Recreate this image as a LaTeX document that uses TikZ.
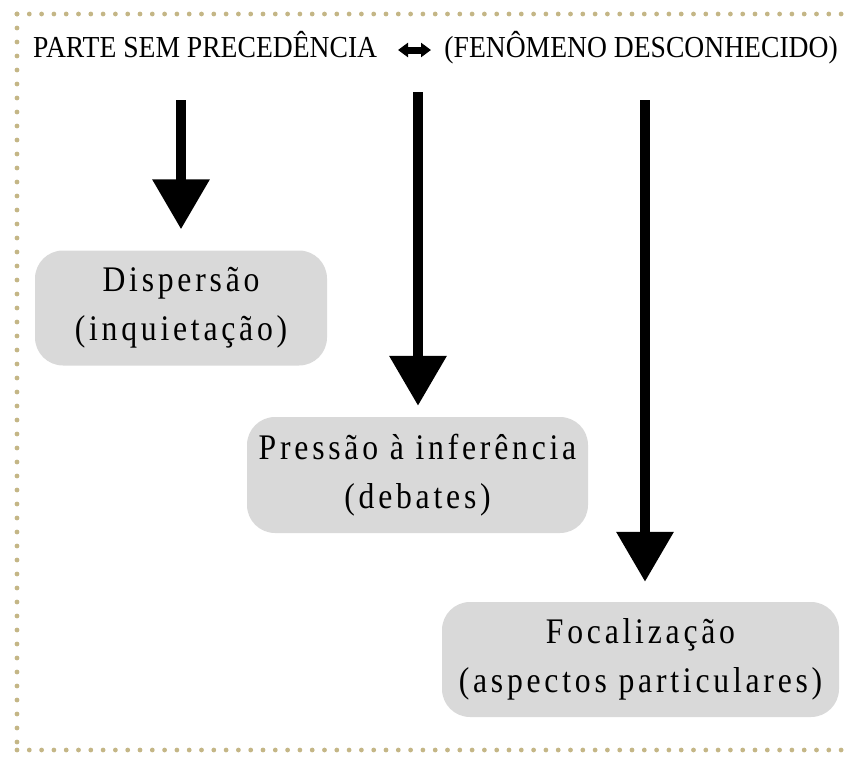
\documentclass[tikz,border=0pt]{standalone}
\usepackage{fontspec}
\setmainfont{Liberation Serif}
\newfontfamily\headfont[FakeStretch=0.905]{Liberation Serif}
\newfontfamily\boxfont[FakeStretch=0.88,LetterSpace=10.5]{Liberation Serif}
\usetikzlibrary{arrows.meta}
\definecolor{dotcol}{RGB}{196,182,134}
\definecolor{boxgray}{RGB}{217,217,217}
\tikzset{
  frame/.style={dotcol, line width=4.8pt, line cap=round, dash pattern=on 0pt off 12.3pt},
  sidefr/.style={dotcol, line width=4.8pt, line cap=round, dash pattern=on 0pt off 14pt},
  header/.style={inner sep=0pt, font=\headfont\fontsize{30.5}{33}\selectfont},
  stagebox/.style={draw=none, fill=boxgray, rounded corners=28pt, inner sep=0pt,
    align=center, font=\boxfont\fontsize{36}{49}\selectfont},
  bigarrow/.style={line width=10pt, -{Triangle[width=55pt,length=50pt]}},
  smallarrow/.style={line width=7pt, {Triangle[width=14pt,length=10pt]}-{Triangle[width=14pt,length=10pt]}}
}
\begin{document}
\begin{tikzpicture}[x=1pt,y=-1pt]
\useasboundingbox (0,0) rectangle (847,758);
\begin{scope}
\clip (0,0) rectangle (847,758);
\draw[frame] (17,14) -- (870,14);
\draw[sidefr] (17,14) -- (17,750);
\draw[frame] (17,750) -- (870,750);
\end{scope}

% header
\node[header, anchor=base west] (left) at (33,57) {PARTE SEM PRECEDÊNCIA};
\node[header, anchor=base east] (right) at (838,57) {(FENÔMENO DESCONHECIDO)};
\coordinate (dl) at (398,50);
\coordinate (dr) at (431,50);
\draw[smallarrow] (dl) -- (dr);

% boxes
\node[stagebox, minimum width=292pt, minimum height=115pt] (b1) at (181,308)
  {Dispersão\\(inquietação)};
\node[stagebox, minimum width=341pt, minimum height=116pt] (b2) at (417.5,475)
  {Pressão à inferência\\(debates)};
\node[stagebox, minimum width=397pt, minimum height=115pt] (b3) at (640.5,659.5)
  {Focalização\\(aspectos particulares)};

% arrows
\coordinate (a1) at (181,100);
\coordinate (a2) at (418,92);
\coordinate (a3) at (645,100);
\draw[bigarrow, shorten >=21pt] (a1) -- (a1 |- b1.north);
\draw[bigarrow, shorten >=11pt] (a2) -- (a2 |- b2.north);
\draw[bigarrow, shorten >=20pt] (a3) -- (a3 |- b3.north);
\end{tikzpicture}
\end{document}
